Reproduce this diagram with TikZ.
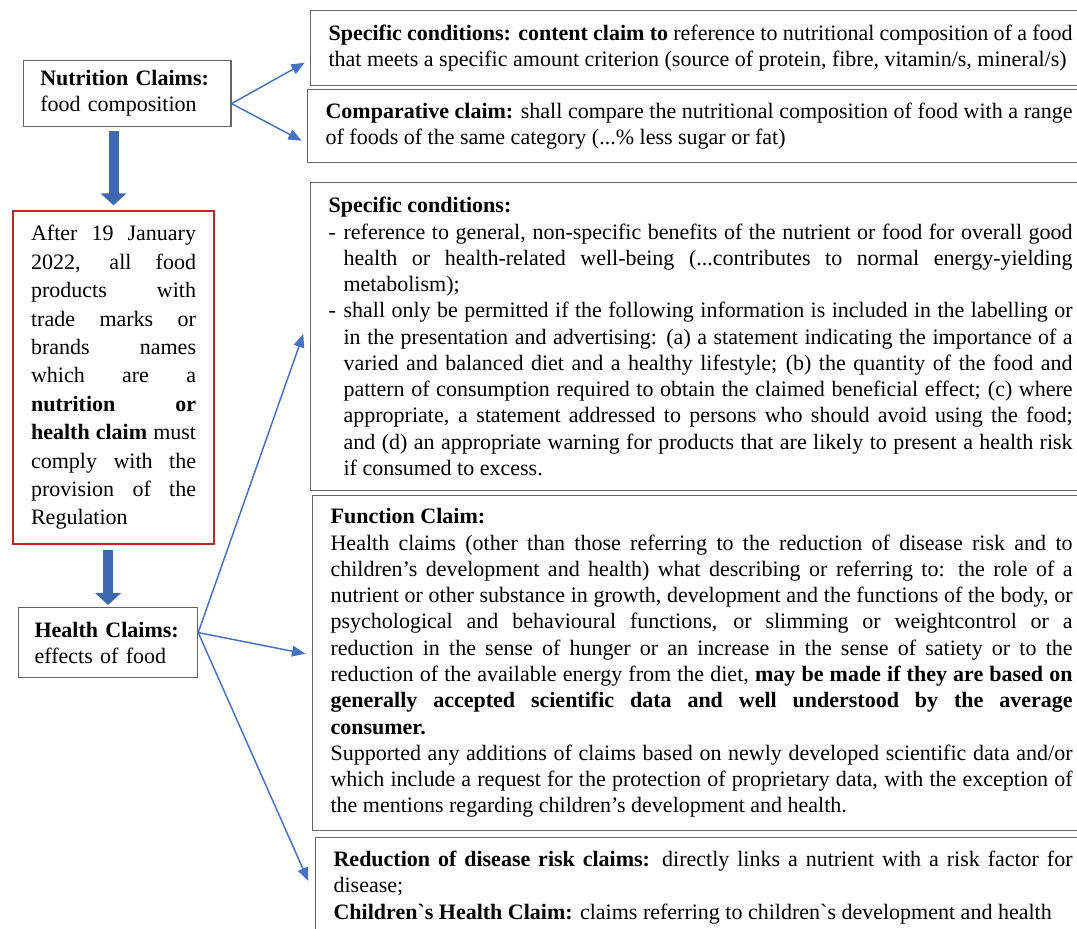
\documentclass[tikz,border=0pt]{standalone}
\usepackage{fontspec}
\setmainfont{Liberation Serif}
\usetikzlibrary{arrows.meta}
\definecolor{arrowblue}{RGB}{68,114,196}
\definecolor{boxgray}{RGB}{100,100,100}
\definecolor{boxred}{RGB}{192,40,40}
\hyphenpenalty=10000
\exhyphenpenalty=10000
\tolerance=10000
\hbadness=10000
\tikzset{
    claimbox/.style={draw=boxgray, line width=0.9pt, anchor=north west, inner xsep=12.5pt, align=left, font=\fontsize{16.5}{19.5}\selectfont},
    infobox/.style={draw=boxgray, line width=0.9pt, anchor=north west, inner xsep=13.5pt, text width=558pt, align=justify, font=\fontsize{16.5}{19.7}\selectfont},
    rulebox/.style={draw=boxred, line width=1.6pt, anchor=north west, inner xsep=13.5pt, text width=123.75pt, align=justify, font=\fontsize{16.5}{21.3}\selectfont},
    bigarrow/.style={arrowblue!90!black, line width=7.5pt, -{Triangle[width=19pt,length=9pt]}},
    link/.style={arrowblue, line width=1.1pt, -{Triangle[width=8pt,length=10pt]}}
}
\newcommand{\dashitem}[1]{{\leftskip=11.25pt\noindent\hspace*{-11.25pt}\makebox[11.25pt][l]{-}#1\par}}

\begin{document}
\begin{tikzpicture}[x=0.75pt, y=-0.75pt]
    \useasboundingbox (0,0) rectangle (1077,928);

    % Left column
    \node[claimbox, text width=130.5pt, minimum height=49.5pt] (nut) at (23,60)
        {\textbf{Nutrition Claims:}\\ food composition};
    \node[rulebox, minimum height=249.75pt] (rule) at (12,210)
        {After 19 January\linebreak 2022, all food\linebreak products with\linebreak trade marks or\linebreak brands names\linebreak which are a\linebreak \textbf{nutrition or}\linebreak \textbf{health claim} must\linebreak comply with the\linebreak provision of the\linebreak Regulation};
    \node[claimbox, text width=110.25pt, inner xsep=12pt, minimum height=52.5pt] (hlth) at (18,607)
        {\textbf{Health Claims:}\\ effects of food};

    % Right column
    \node[infobox, minimum height=56.25pt] (spec) at (310,10)
        {\textbf{Specific conditions: content claim to} reference to nutritional composition of a food\linebreak that meets a specific amount criterion (source of protein, fibre, vitamin/s, mineral/s)};
    \node[infobox, text width=560.25pt, minimum height=54.75pt] (comp) at (307,89)
        {\textbf{Comparative claim:} shall compare the nutritional composition of food with a range\linebreak of foods of the same category (...\% less sugar or fat)};
    \node[infobox, minimum height=231pt] (cond) at (310,182)
        {\textbf{Specific conditions:}\par
        \dashitem{reference to general, non-specific benefits of the nutrient or food for overall good\linebreak health or health-related well-being (...contributes to normal energy-yielding\linebreak metabolism);}
        \dashitem{shall only be permitted if the following information is included in the labelling or\linebreak in the presentation and advertising: (a) a statement indicating the importance of a\linebreak varied and balanced diet and a healthy lifestyle; (b) the quantity of the food and\linebreak pattern of consumption required to obtain the claimed beneficial effect; (c) where\linebreak appropriate, a statement addressed to persons who should avoid using the food;\linebreak and (d) an appropriate warning for products that are likely to present a health risk\linebreak if consumed to excess.}};
    \node[infobox, text width=556.5pt, minimum height=251.25pt] (func) at (312,495)
        {\textbf{Function Claim:}\par
        Health claims (other than those referring to the reduction of disease risk and to\linebreak children's development and health) what describing or referring to: the role of a\linebreak nutrient or other substance in growth, development and the functions of the body, or\linebreak psychological and behavioural functions, or slimming or weightcontrol or a\linebreak reduction in the sense of hunger or an increase in the sense of satiety or to the\linebreak reduction of the available energy from the diet, \textbf{may be made if they are based on}\linebreak \textbf{generally accepted scientific data and well understood by the average}\linebreak \textbf{consumer.}\par
        Supported any additions of claims based on newly developed scientific data and/or\linebreak which include a request for the protection of proprietary data, with the exception of\linebreak the mentions regarding children's development and health.};
    \node[infobox, text width=554.25pt, minimum height=75pt] (risk) at (315,837)
        {\textbf{Reduction of disease risk claims:} directly links a nutrient with a risk factor for\linebreak disease;\par
        \textbf{Children\textasciigrave s Health Claim:} claims referring to children\textasciigrave s development and health};

    % Thick arrows down the left column
    \draw[bigarrow, shorten <=3pt, shorten >=3.5pt] (rule.north |- nut.south) -- (rule.north);
    \draw[bigarrow, shorten <=3.5pt, shorten >=1.5pt] (hlth.north |- rule.south) -- (hlth.north);

    % Links to the claim conditions
    \draw[link] ([yshift=-7.5pt]nut.east) -- ([xshift=-4pt,yshift=-11pt]spec.west);
    \draw[link] ([yshift=-7.5pt]nut.east) -- ([xshift=-4pt,yshift=-11pt]comp.west);
    \draw[link] ([yshift=7.5pt]hlth.east) -- ([xshift=-5pt,yshift=2pt]cond.west);
    \draw[link] ([yshift=7.5pt]hlth.east) -- ([xshift=-5pt,yshift=7pt]func.west);
    \draw[link] ([yshift=7.5pt]hlth.east) -- ([xshift=-5pt,yshift=5pt]risk.west);
\end{tikzpicture}
\end{document}
